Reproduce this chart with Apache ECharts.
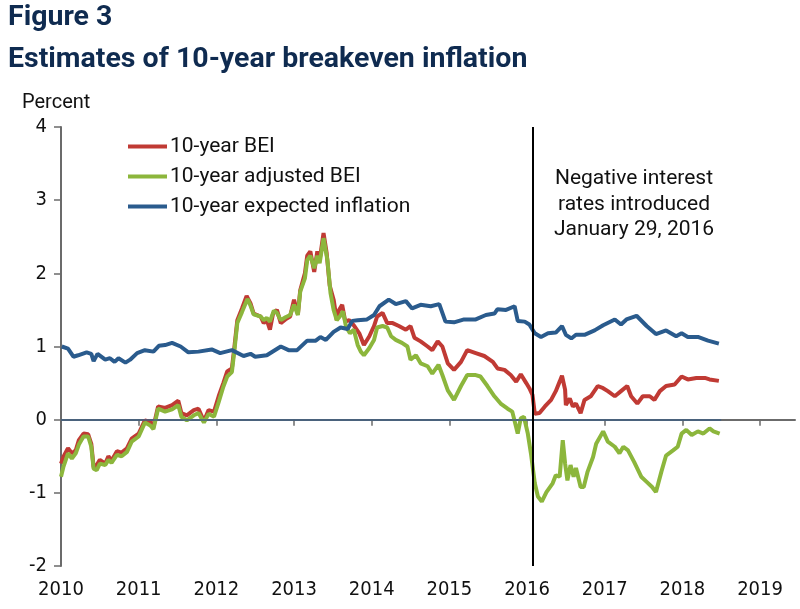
<!DOCTYPE html>
<html>
<head>
<meta charset="utf-8">
<script src="https://cdn.jsdelivr.net/npm/echarts@6/dist/echarts.min.js"></script>
<style>
html,body{margin:0;padding:0;background:#fff;}
#chart{width:800px;height:609px;}
</style>
</head>
<body>
<div id="chart"></div>
<script>
// ---- Data ----
const xTickYears = [2010, 2011, 2012, 2013, 2014, 2015, 2016, 2017, 2018, 2019];
const yTicks = [-2, -1, 0, 1, 2, 3, 4];
const seriesNames = ['10-year BEI', '10-year adjusted BEI', '10-year expected inflation'];
const negativeRateDate = 2016.08; // January 29, 2016

const bei = [
[2010.00,-0.60],[2010.03,-0.51],[2010.09,-0.39],[2010.14,-0.46],[2010.19,-0.42],[2010.23,-0.28],[2010.29,-0.19],[2010.35,-0.20],[2010.39,-0.33],[2010.42,-0.65],[2010.46,-0.62],[2010.50,-0.55],[2010.57,-0.60],[2010.61,-0.50],[2010.65,-0.56],[2010.72,-0.43],[2010.78,-0.45],[2010.85,-0.39],[2010.91,-0.26],[2011.00,-0.19],[2011.08,-0.01],[2011.15,-0.03],[2011.19,-0.10],[2011.25,0.18],[2011.34,0.16],[2011.43,0.20],[2011.51,0.26],[2011.55,0.09],[2011.62,0.06],[2011.71,0.13],[2011.77,0.15],[2011.84,-0.02],[2011.90,0.13],[2011.97,0.11],[2012.03,0.32],[2012.09,0.50],[2012.14,0.66],[2012.20,0.70],[2012.23,0.97],[2012.27,1.36],[2012.33,1.52],[2012.39,1.69],[2012.44,1.59],[2012.48,1.45],[2012.57,1.41],[2012.61,1.32],[2012.65,1.36],[2012.69,1.23],[2012.73,1.45],[2012.78,1.50],[2012.83,1.32],[2012.89,1.37],[2012.95,1.41],[2013.00,1.64],[2013.05,1.44],[2013.08,1.77],[2013.14,2.00],[2013.17,2.24],[2013.21,2.30],[2013.26,2.02],[2013.30,2.30],[2013.33,2.18],[2013.38,2.55],[2013.42,2.28],[2013.46,1.83],[2013.51,1.64],[2013.55,1.36],[2013.58,1.50],[2013.62,1.57],[2013.66,1.34],[2013.71,1.36],[2013.77,1.29],[2013.84,1.18],[2013.90,1.02],[2013.97,1.14],[2014.03,1.28],[2014.07,1.41],[2014.14,1.46],[2014.20,1.32],[2014.27,1.32],[2014.35,1.28],[2014.44,1.23],[2014.50,1.28],[2014.55,1.12],[2014.63,1.07],[2014.72,1.00],[2014.78,0.95],[2014.85,1.07],[2014.91,1.00],[2014.98,0.77],[2015.06,0.68],[2015.15,0.79],[2015.23,0.95],[2015.34,0.91],[2015.45,0.87],[2015.56,0.79],[2015.62,0.70],[2015.71,0.68],[2015.79,0.61],[2015.86,0.52],[2015.92,0.62],[2015.99,0.50],[2016.03,0.43],[2016.07,0.34],[2016.10,0.08],[2016.16,0.09],[2016.23,0.18],[2016.31,0.27],[2016.37,0.39],[2016.42,0.52],[2016.45,0.60],[2016.49,0.41],[2016.50,0.20],[2016.55,0.29],[2016.59,0.18],[2016.63,0.22],[2016.69,0.09],[2016.74,0.27],[2016.82,0.32],[2016.91,0.46],[2016.98,0.43],[2017.04,0.39],[2017.13,0.32],[2017.21,0.39],[2017.29,0.46],[2017.34,0.32],[2017.42,0.22],[2017.49,0.32],[2017.58,0.32],[2017.64,0.27],[2017.71,0.39],[2017.79,0.46],[2017.90,0.48],[2017.99,0.59],[2018.07,0.55],[2018.18,0.57],[2018.29,0.57],[2018.35,0.55],[2018.47,0.53]
];

const adjustedBei = [
[2010.00,-0.78],[2010.03,-0.65],[2010.09,-0.46],[2010.14,-0.53],[2010.19,-0.46],[2010.23,-0.34],[2010.29,-0.23],[2010.35,-0.23],[2010.39,-0.37],[2010.42,-0.67],[2010.46,-0.69],[2010.50,-0.60],[2010.57,-0.62],[2010.61,-0.55],[2010.65,-0.59],[2010.72,-0.48],[2010.78,-0.50],[2010.85,-0.44],[2010.91,-0.30],[2011.00,-0.23],[2011.08,-0.04],[2011.15,-0.08],[2011.19,-0.13],[2011.25,0.15],[2011.34,0.11],[2011.43,0.14],[2011.51,0.20],[2011.55,0.04],[2011.62,-0.01],[2011.71,0.06],[2011.77,0.09],[2011.84,-0.04],[2011.90,0.08],[2011.97,0.04],[2012.03,0.24],[2012.09,0.45],[2012.14,0.59],[2012.20,0.65],[2012.23,0.92],[2012.27,1.32],[2012.33,1.47],[2012.40,1.65],[2012.44,1.56],[2012.48,1.44],[2012.57,1.41],[2012.61,1.36],[2012.65,1.39],[2012.69,1.34],[2012.74,1.49],[2012.78,1.46],[2012.83,1.36],[2012.89,1.40],[2012.95,1.43],[2013.00,1.57],[2013.05,1.43],[2013.08,1.75],[2013.14,1.93],[2013.17,2.18],[2013.21,2.24],[2013.26,2.07],[2013.30,2.24],[2013.33,2.14],[2013.38,2.48],[2013.43,2.18],[2013.47,1.73],[2013.51,1.50],[2013.55,1.36],[2013.59,1.41],[2013.63,1.48],[2013.67,1.27],[2013.72,1.18],[2013.77,1.23],[2013.82,1.02],[2013.86,0.93],[2013.90,0.88],[2013.97,0.98],[2014.03,1.09],[2014.07,1.26],[2014.14,1.28],[2014.20,1.26],[2014.25,1.14],[2014.31,1.09],[2014.39,1.05],[2014.46,1.00],[2014.50,0.82],[2014.57,0.88],[2014.63,0.77],[2014.72,0.73],[2014.78,0.63],[2014.86,0.75],[2014.91,0.61],[2014.98,0.40],[2015.06,0.27],[2015.15,0.46],[2015.23,0.61],[2015.34,0.61],[2015.40,0.59],[2015.49,0.46],[2015.58,0.32],[2015.66,0.22],[2015.75,0.15],[2015.81,0.11],[2015.88,-0.19],[2015.92,0.02],[2015.96,0.04],[2016.01,-0.19],[2016.05,-0.46],[2016.10,-0.87],[2016.14,-1.05],[2016.19,-1.12],[2016.25,-0.99],[2016.33,-0.87],[2016.37,-0.76],[2016.42,-0.78],[2016.46,-0.28],[2016.49,-0.60],[2016.52,-0.83],[2016.56,-0.62],[2016.60,-0.78],[2016.63,-0.66],[2016.69,-0.92],[2016.73,-0.92],[2016.78,-0.71],[2016.85,-0.51],[2016.89,-0.33],[2016.98,-0.16],[2017.04,-0.30],[2017.13,-0.37],[2017.19,-0.46],[2017.24,-0.37],[2017.30,-0.42],[2017.38,-0.58],[2017.47,-0.78],[2017.54,-0.85],[2017.61,-0.92],[2017.66,-0.99],[2017.73,-0.71],[2017.79,-0.49],[2017.88,-0.42],[2017.94,-0.37],[2017.99,-0.19],[2018.05,-0.14],[2018.12,-0.21],[2018.20,-0.16],[2018.27,-0.19],[2018.35,-0.12],[2018.40,-0.16],[2018.48,-0.19]
];

const expectedInflation = [
[2010.01,1.00],[2010.09,0.97],[2010.16,0.86],[2010.22,0.88],[2010.33,0.92],[2010.39,0.90],[2010.42,0.80],[2010.47,0.90],[2010.57,0.82],[2010.63,0.84],[2010.69,0.79],[2010.74,0.84],[2010.83,0.78],[2010.89,0.82],[2010.98,0.91],[2011.08,0.95],[2011.19,0.93],[2011.26,1.01],[2011.34,1.02],[2011.43,1.05],[2011.54,1.00],[2011.64,0.92],[2011.77,0.93],[2011.94,0.96],[2012.05,0.91],[2012.20,0.95],[2012.35,0.87],[2012.44,0.90],[2012.50,0.86],[2012.65,0.88],[2012.83,1.00],[2012.93,0.95],[2013.04,0.95],[2013.17,1.08],[2013.28,1.08],[2013.34,1.13],[2013.41,1.09],[2013.51,1.20],[2013.60,1.26],[2013.69,1.24],[2013.75,1.35],[2013.82,1.36],[2013.94,1.37],[2014.03,1.43],[2014.10,1.55],[2014.22,1.64],[2014.31,1.58],[2014.44,1.62],[2014.52,1.52],[2014.63,1.57],[2014.76,1.55],[2014.87,1.58],[2014.95,1.34],[2015.06,1.33],[2015.19,1.37],[2015.34,1.37],[2015.47,1.43],[2015.58,1.45],[2015.62,1.51],[2015.73,1.50],[2015.84,1.55],[2015.88,1.35],[2015.97,1.34],[2016.03,1.30],[2016.10,1.18],[2016.18,1.13],[2016.27,1.18],[2016.37,1.19],[2016.45,1.28],[2016.50,1.16],[2016.57,1.11],[2016.63,1.16],[2016.74,1.16],[2016.87,1.22],[2016.98,1.29],[2017.13,1.37],[2017.21,1.30],[2017.28,1.37],[2017.41,1.42],[2017.54,1.28],[2017.66,1.17],[2017.79,1.22],[2017.92,1.14],[2017.99,1.18],[2018.07,1.13],[2018.20,1.13],[2018.33,1.08],[2018.47,1.04]
];

// ---- Chart ----
const chart = echarts.init(document.getElementById('chart'), null, {renderer: 'canvas'});
const tickFont = "'DejaVu Sans Condensed', 'Liberation Sans Narrow', 'Roboto', sans-serif";
const textFont = "'Roboto', 'Noto Sans', sans-serif";
const navy = '#0f2b50';
const RED = '#c03a34', GREEN = '#8cb63c', BLUE = '#2a5b8d';

const lineSeries = (name, data, color, extra) => Object.assign({
  name, type: 'line', data, showSymbol: false, symbol: 'none',
  lineStyle: {color, width: 4}, itemStyle: {color}, silent: true, z: 3
}, extra || {});

chart.setOption({
  animation: false,
  backgroundColor: '#fff',
  grid: {left: 61, right: 5, top: 127, bottom: 43, containLabel: false},
  graphic: [
    {type: 'text', left: 8, top: 3, style: {text: 'Figure 3', font: "bold 28.5px " + textFont, fill: navy}},
    {type: 'text', left: 8, top: 45, style: {text: 'Estimates of 10-year breakeven inflation', font: "bold 28.5px " + textFont, fill: navy}},
    {type: 'text', left: 22, top: 93, style: {text: 'Percent', font: "20px " + textFont, fill: '#111'}},
    {type: 'text', x: 634, y: 166, style: {text: 'Negative interest\nrates introduced\nJanuary 29, 2016', font: "21px " + textFont, fill: '#111', align: 'center', lineHeight: 25.5}}
  ],
  legend: {
    orient: 'vertical', left: 128, top: 136, padding: 0, itemGap: 9, itemWidth: 39, itemHeight: 4,
    icon: 'rect', data: seriesNames,
    textStyle: {fontFamily: textFont, fontSize: 21, color: '#111', padding: [0, 0, 0, -2]},
    selectedMode: false
  },
  xAxis: {
    type: 'value', min: 2010, max: 2019.45, interval: 1,
    axisLine: {show: true, lineStyle: {color: '#6b6b6b', width: 2}},
    axisTick: {show: true, length: 6, lineStyle: {color: '#6b6b6b', width: 1.5}, customValues: xTickYears},
    axisLabel: {customValues: xTickYears, fontFamily: tickFont, fontSize: 20, color: '#111', margin: 14, formatter: v => String(v)},
    splitLine: {show: false}
  },
  yAxis: {
    type: 'value', min: -2, max: 4, interval: 1,
    axisLine: {show: true, lineStyle: {color: '#6b6b6b', width: 2}},
    axisTick: {show: true, length: 7, lineStyle: {color: '#6b6b6b', width: 1.5}},
    axisLabel: {fontFamily: tickFont, fontSize: 20, color: '#111', margin: 14},
    splitLine: {show: false}
  },
  series: [
    lineSeries(seriesNames[0], bei, RED, {
      markLine: {
        silent: true, symbol: 'none', label: {show: false}, animation: false,
        data: [
          [{coord: [2010, 0], lineStyle: {color: '#3f5f82', width: 1.5, type: 'solid'}}, {coord: [2018.5, 0]}],
          [{coord: [negativeRateDate, -2], lineStyle: {color: '#000', width: 2, type: 'solid'}}, {coord: [negativeRateDate, 4]}]
        ]
      }
    }),
    lineSeries(seriesNames[1], adjustedBei, GREEN),
    lineSeries(seriesNames[2], expectedInflation, BLUE)
  ]
});
</script>
</body>
</html>
